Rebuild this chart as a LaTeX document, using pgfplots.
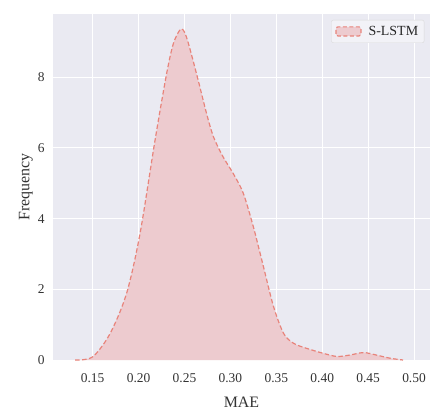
\documentclass[border=0pt]{standalone}
\usepackage{pgfplots}
\pgfplotsset{compat=1.18}
\usepackage{fontspec}
\setmainfont{Liberation Serif}
\usepackage{pgfplotstable}
\definecolor{bgc}{HTML}{EAEAF2}
\definecolor{fillc}{HTML}{EDCBCF}
\definecolor{linec}{HTML}{E8837A}
\pgfplotstableread{
x y
0.131 0
0.150 0.09
0.169 0.75
0.187 1.89
0.2016 3.58
0.218 6.23
0.2306 8.11
0.238 8.96
0.246 9.36
0.252 9.15
0.263 8.11
0.274 6.98
0.2815 6.32
0.292 5.75
0.303 5.28
0.314 4.72
0.325 3.77
0.336 2.64
0.347 1.51
0.358 0.75
0.369 0.47
0.383 0.33
0.401 0.19
0.416 0.10
0.430 0.14
0.445 0.21
0.459 0.14
0.474 0.05
0.488 0
}\kde
\begin{document}
\begin{tikzpicture}
\begin{axis}[
  scale only axis,
  width=377bp, height=346bp,
  xmin=0.1068, xmax=0.5174,
  ymin=0, ymax=9.79,
  axis background/.style={fill=bgc},
  axis line style={draw=none},
  major tick length=0pt,
  grid=major,
  major grid style={white, line width=1pt},
  xtick={0.15,0.20,0.25,0.30,0.35,0.40,0.45,0.50},
  ytick={0,2,4,6,8},
  /pgf/number format/assume math mode=true,
  tick label style={font=\fontsize{13.5}{13.5}\selectfont, text=black!80},
  xticklabel style={/pgf/number format/fixed, /pgf/number format/fixed zerofill, /pgf/number format/precision=2, yshift=-10bp},
  yticklabel style={xshift=-5bp},
  xlabel={MAE}, ylabel={Frequency},
  label style={font=\fontsize{16}{16}\selectfont, text=black!80},
  xlabel style={yshift=-7bp},
  ylabel style={yshift=-2bp},
  legend style={at={(0.985,0.983)}, anchor=north east, fill=bgc!60!white, draw=black!15, rounded corners=2pt, font=\fontsize{14}{14}\selectfont, text=black!85, inner xsep=4pt, inner ysep=4pt},
  legend image code/.code={\draw[draw=linec, fill=fillc, line width=1.2pt, dash pattern=on 4pt off 2.5pt] (0cm,-0.16cm) rectangle (0.88cm,0.16cm);},
]
\addplot[smooth, tension=0.5, draw=none, fill=fillc, forget plot] table {\kde} \closedcycle;
\addplot[smooth, tension=0.5, draw=linec, line width=1.2pt, dash pattern=on 4.5pt off 2.5pt] table {\kde};
\addlegendentry{\hspace{5bp}S-LSTM}
\end{axis}
\path ([xshift=-53bp,yshift=-46bp]current axis.south west) rectangle ([xshift=3bp,yshift=14bp]current axis.north east);
\end{tikzpicture}
\end{document}
